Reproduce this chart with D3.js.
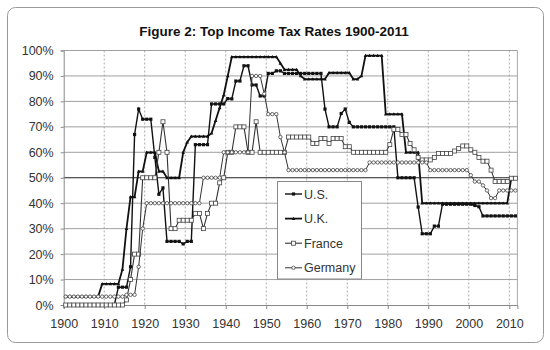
<!DOCTYPE html>
<html><head><meta charset="utf-8">
<script src="https://cdn.jsdelivr.net/npm/d3@7"></script>
<style>
body{margin:0;background:#fff}
svg{display:block}
text{font-family:"Liberation Sans",Arial,sans-serif;fill:#222}
</style>
</head><body>
<svg id="c" width="550" height="350"></svg>
<script>
const years = d3.range(1900, 2012);
const yTicks = [0,0.1,0.2,0.3,0.4,0.5,0.6,0.7,0.8,0.9,1.0];
const xTicks = [1900,1910,1920,1930,1940,1950,1960,1970,1980,1990,2000,2010];
const seriesNames = ["U.S.", "U.K.", "France", "Germany"];

const usRates = [
 0,0,0,0,0,0,0,0,0,0,0,0,0,
 7,7,7,15,67,77,73,73,73,58,43.5,46,
 25,25,25,25,24,25,25,
 63,63,63,63,79,79,79,79,81.1,81,88,88,94,94,86.45,86.45,82.13,82.13,
 91,91,92,92,91,91,91,91,91,91,91,91,91,91,
 77,70,70,70,75.25,77,71.75,
 70,70,70,70,70,70,70,70,70,70,70,
 50,50,50,50,50,38.5,28,28,28,31,31,
 39.6,39.6,39.6,39.6,39.6,39.6,39.6,39.6,39.1,38.6,
 35,35,35,35,35,35,35,35,35];
const ukRates = [
 3.3,3.3,3.3,3.3,3.3,3.3,3.3,3.3,3.3,
 8.3,8.3,8.3,8.3,8.3,
 14,30,42.5,42.5,52.5,52.5,60,60,60,52.5,52.5,50,50,50,50,
 60,64,66.25,66.25,66.25,66.25,66.25,67.5,72.5,77.5,82.5,90,
 97.5,97.5,97.5,97.5,97.5,97.5,97.5,97.5,97.5,97.5,97.5,97.5,
 95,92.5,92.5,92.5,92.5,90,
 88.75,88.75,88.75,88.75,88.75,88.75,
 91.25,91.25,91.25,91.25,91.25,91.25,
 88.75,88.75,90,98,98,98,98,98,
 75,75,75,75,75,60,60,60,60,
 40,40,40,40,40,40,40,40,40,40,40,40,40,40,40,40,40,40,40,40,40,40,
 50,50];
const frRates = [
 0,0,0,0,0,0,0,0,0,0,0,0,0,0,0,
 2,10,20,20,50,50,50,50,60,72,60,30,30,
 33.3,33.3,33.3,33.3,36,36,30,36,40,40,48,50,
 60,60,70,70,70,60,60,72,
 60,60,60,60,60,60,60,
 66,66,66,66,66,66,
 63.5,63.5,65.4,65.4,63.5,65.4,65.4,65.4,62.2,62.2,
 60,60,60,60,60,60,60,60,60,
 63,69,69,67,67,63.5,61,58,
 57,57,57,58,59.5,59.5,59.5,59.5,60.5,61.5,62.5,62.5,
 61,60,58,56.5,56.5,53,
 48.5,48.5,48.5,48.5,49.8,49.8];
const deRates = [
 3.3,3.3,3.3,3.3,3.3,3.3,3.3,3.3,3.3,3.3,3.3,3.3,3.3,3.3,3.3,
 4,4,4,15,30,
 40,40,40,40,40,40,40,40,40,40,40,40,40,40,
 50,50,50,50,50,
 60,60,60,60,60,60,60,
 90,90,90,83,75,75,75,66,60,
 53,53,53,53,53,53,53,53,53,53,53,53,53,53,53,53,53,53,53,53,
 56,56,56,56,56,56,56,56,56,56,56,56,56,56,56,
 53,53,53,53,53,53,53,53,53,53,
 51,48.5,48.5,47,45,42,42,
 45,45,45,45,45];

const svg = d3.select("#c");
svg.append("rect").attr("x",7.5).attr("y",7.5).attr("width",536).attr("height",335)
  .attr("rx",8).attr("fill","#fff").attr("stroke","#9a9a9a");

svg.append("text").attr("x",274).attr("y",36).attr("text-anchor","middle")
  .style("font-size","13.5px").style("font-weight","bold").style("fill","#111")
  .text("Figure 2: Top Income Tax Rates 1900-2011");

const L = 63.7, R = 517.4, T = 50.5, B = 305;
const x = d3.scaleLinear().domain([1900, 2012]).range([L, R]);
const y = d3.scaleLinear().domain([0, 1]).range([B, T]);

svg.append("g").selectAll("line").data(xTicks.filter(d=>d>1900)).join("line")
  .attr("x1",d=>x(d)).attr("x2",d=>x(d)).attr("y1",T).attr("y2",B)
  .attr("stroke","#aaa").attr("stroke-width",1).attr("stroke-dasharray","2,2");
svg.append("g").selectAll("line").data(yTicks.filter(d=>d>0)).join("line")
  .attr("x1",L).attr("x2",R).attr("y1",d=>y(d)).attr("y2",d=>y(d))
  .attr("stroke",d=>Math.abs(d-0.5)<1e-9?"#222":"#a0a0a0").attr("stroke-width",1);
svg.append("line").attr("x1",R).attr("x2",R).attr("y1",T).attr("y2",B).attr("stroke","#a8a8a8");

const xAxis = svg.append("g").attr("transform",`translate(0,${B})`)
  .call(d3.axisBottom(x).tickValues(xTicks).tickSize(4).tickPadding(10).tickFormat(d3.format("d")));
const yAxis = svg.append("g").attr("transform",`translate(${L},0)`)
  .call(d3.axisLeft(y).tickValues(yTicks).tickSize(3).tickPadding(7).tickFormat(d3.format(".0%")));
[xAxis,yAxis].forEach(g=>{
  g.selectAll("path").attr("stroke","#888");
  g.selectAll("line").attr("stroke","#888");
  g.selectAll("text").style("font-size","12.5px").style("fill","#333")
   .style("font-family","'Liberation Sans',Arial,sans-serif");
});

const all = [usRates, ukRates, frRates, deRates].map((arr,i)=>({
  name: seriesNames[i],
  pts: years.map((yr,j)=>({year:yr, v:arr[j]}))
}));
const styles = [
  {stroke:"#111", w:1.4},
  {stroke:"#111", w:1.8},
  {stroke:"#333", w:1.1},
  {stroke:"#333", w:1.0}
];
const line = d3.line().x(d=>x(d.year+0.5)).y(d=>y(d.v/100));

function drawMarker(g, k, cx, cy){
  if(k===0){ g.append("rect").attr("x",cx-1.6).attr("y",cy-1.6).attr("width",3.2).attr("height",3.2).attr("fill","#111"); }
  else if(k===1){ g.append("path").attr("d",`M${cx-1.8},${cy+1.4}L${cx+1.8},${cy+1.4}L${cx},${cy-1.8}Z`).attr("fill","#111"); }
  else if(k===2){ g.append("rect").attr("x",cx-2).attr("y",cy-2).attr("width",4).attr("height",4).attr("fill","#fff").attr("stroke","#444").attr("stroke-width",0.8); }
  else { g.append("circle").attr("cx",cx).attr("cy",cy).attr("r",1.7).attr("fill","#fff").attr("stroke","#444").attr("stroke-width",0.8); }
}

all.forEach((s,k)=>{
  const g = svg.append("g");
  g.append("path").attr("d",line(s.pts)).attr("fill","none")
    .attr("stroke",styles[k].stroke).attr("stroke-width",styles[k].w);
  s.pts.forEach(p=>drawMarker(g,k,x(p.year+0.5),y(p.v/100)));
});

const lg = svg.append("g");
lg.append("rect").attr("x",277.5).attr("y",181.5).attr("width",84).attr("height",97.5)
  .attr("fill","#fff").attr("stroke","#888");
seriesNames.forEach((n,k)=>{
  const cy = 194 + k*24.6;
  lg.append("line").attr("x1",285).attr("x2",302).attr("y1",cy).attr("y2",cy)
    .attr("stroke",styles[k].stroke).attr("stroke-width",styles[k].w);
  drawMarker(lg,k,293.5,cy);
  lg.append("text").attr("x",304).attr("y",cy+4.5).style("font-size","12.5px").style("fill","#333").text(n);
});
</script>
</body></html>
